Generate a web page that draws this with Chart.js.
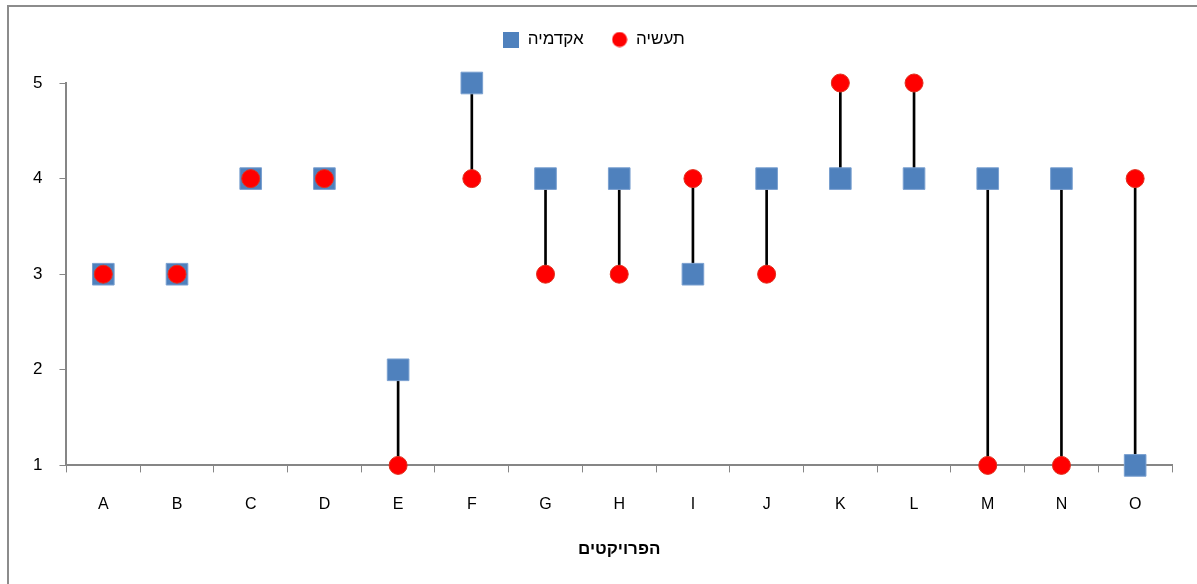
<!DOCTYPE html>
<html>
<head>
<meta charset="utf-8">
<script src="https://cdn.jsdelivr.net/npm/chart.js@4/dist/chart.umd.min.js"></script>
<style>
  html, body { margin: 0; padding: 0; background: #fff; }
  #wrap { position: relative; width: 1197px; height: 584px; overflow: hidden; }
  #frame { position: absolute; left: 7px; top: 5px; width: 1300px; height: 700px; border: 2px solid #8c8c8c; box-sizing: border-box; }
  canvas { position: absolute; left: 0; top: 0; }
</style>
</head>
<body>
<div id="wrap">
  <div id="frame"></div>
  <canvas id="projChart" width="1197" height="584"></canvas>
</div>
<script>
const projects = ['A','B','C','D','E','F','G','H','I','J','K','L','M','N','O'];
const academia = [3,3,4,4,2,5,4,4,3,4,4,4,4,4,1];
const industry = [3,3,4,4,1,4,3,3,4,3,5,5,1,1,4];
const yTicks = [1,2,3,4,5];

// connector between the two scores of each project
const gaps = projects.map((p, i) => [Math.min(academia[i], industry[i]), Math.max(academia[i], industry[i])]);

const fontFamily = "'Liberation Sans', 'DejaVu Sans', sans-serif";
const axisGrey = '#868686';

// small legend markers, same size for both series
function markerIcon(draw) {
    const c = document.createElement('canvas');
    c.width = 16;
    c.height = 16;
    draw(c.getContext('2d'));
    return c;
}
const circleIcon = markerIcon(g => {
    g.fillStyle = '#ff0000';
    g.beginPath();
    g.arc(8, 8, 7.5, 0, Math.PI * 2);
    g.fill();
});
const squareIcon = markerIcon(g => {
    g.fillStyle = '#4f81bd';
    g.fillRect(0, 0, 16, 16);
});

// extra room between the legend and the plot
const legendGap = {
    id: 'legendGap',
    beforeInit(chart) {
        const fit = chart.legend.fit;
        chart.legend.fit = function () {
            fit.bind(chart.legend)();
            this.height += 25;
        };
    }
};

const ctx = document.getElementById('projChart');

new Chart(ctx, {
    type : 'bar',
    data : {
        labels: projects,
        datasets: [
            {
                'label' : 'תעשיה',
                'type' : 'line',
                'data' : industry,
                'showLine' : false,
                'pointStyle' : 'circle',
                'pointRadius' : 9,
                'pointHoverRadius' : 9,
                'pointBackgroundColor' : '#ff0000',
                'pointBorderColor' : '#e0301e',
                'pointBorderWidth' : 1,
                'backgroundColor' : '#ff0000',
                'borderColor' : '#e0301e',
                'clip' : false,
                'order' : 0
            },
            {
                'label' : 'אקדמיה',
                'type' : 'line',
                'data' : academia,
                'showLine' : false,
                'pointStyle' : 'rect',
                'pointRadius' : 15.3,
                'pointHoverRadius' : 15.3,
                'pointBackgroundColor' : '#4f81bd',
                'pointBorderColor' : '#7aa0d0',
                'pointBorderWidth' : 1,
                'backgroundColor' : '#4f81bd',
                'borderColor' : '#4f81bd',
                'clip' : false,
                'order' : 1
            },
            {
                'label' : 'gap',
                'data' : gaps,
                'backgroundColor' : '#000000',
                'borderWidth' : 0,
                'barThickness' : 2,
                'borderSkipped' : false,
                'order' : 2
            }
        ],
    },
    options: {
        responsive: false,
        animation: false,
        layout: {
            padding: { left: 16, right: 25, top: 3, bottom: 24 }
        },
        plugins: {
            legend: {
                display: true,
                position: 'top',
                labels: {
                    usePointStyle: true,
                    color: '#000',
                    boxWidth: 16,
                    boxHeight: 16,
                    padding: 28,
                    font: { family: fontFamily, size: 17 },
                    generateLabels: (chart) => Chart.defaults.plugins.legend.labels.generateLabels(chart)
                        .map(item => ({ ...item, pointStyle: item.datasetIndex === 0 ? circleIcon : squareIcon })),
                    filter: (item) => item.text !== 'gap',
                    sort: (a, b) => b.datasetIndex - a.datasetIndex
                }
            },
            tooltip: { enabled: false }
        },
        scales: {
            x: {
                offset: true,
                grid: {
                    display: true,
                    offset: true,
                    drawOnChartArea: false,
                    drawTicks: true,
                    tickLength: 7,
                    color: axisGrey
                },
                border: { display: true, color: axisGrey, width: 2 },
                ticks: {
                    color: '#000',
                    padding: 23,
                    font: { family: fontFamily, size: 16 }
                },
                title: {
                    display: true,
                    text: 'הפרויקטים',
                    color: '#000',
                    padding: { top: 2, bottom: 0 },
                    font: { family: fontFamily, size: 17, weight: 'bold' }
                }
            },
            y: {
                min: 1,
                max: 5,
                afterBuildTicks: (axis) => { axis.ticks = yTicks.map(v => ({ value: v })); },
                grid: {
                    display: true,
                    drawOnChartArea: false,
                    drawTicks: true,
                    tickLength: 7,
                    color: axisGrey
                },
                border: { display: true, color: axisGrey, width: 2 },
                ticks: {
                    color: '#000',
                    padding: 17,
                    font: { family: fontFamily, size: 17 }
                }
            }
        }
    },
    plugins: [legendGap]
});
</script>
</body>
</html>
